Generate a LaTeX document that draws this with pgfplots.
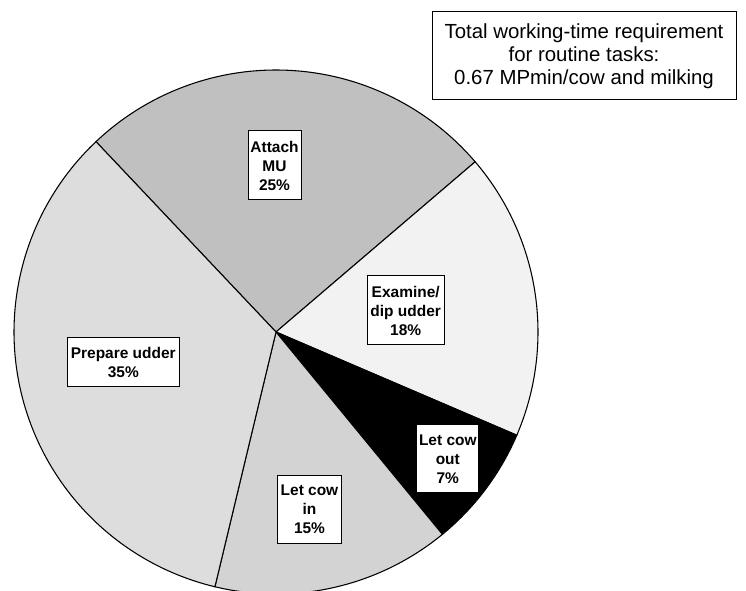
\documentclass[border=0pt]{standalone}
\usepackage{pgfplots}
\pgfplotsset{compat=1.18}
\usepackage{fontspec}
\setmainfont{Liberation Sans}
\definecolor{cAttach}{HTML}{C0C0C0}
\definecolor{cExam}{HTML}{F2F2F2}
\definecolor{cOut}{HTML}{000000}
\definecolor{cIn}{HTML}{D3D3D3}
\definecolor{cPrep}{HTML}{DDDDDD}
% slice shares in percent, clockwise from the start angle
\def\pAttach{25.8}
\def\pExam{17.7}
\def\pOut{7.6}
\def\pIn{14.7}
\def\pPrep{34.2}
\def\startang{133.4}
\begin{document}
\begin{tikzpicture}
\pgfmathsetmacro{\aA}{\startang}
\pgfmathsetmacro{\aB}{\aA-3.6*\pAttach}
\pgfmathsetmacro{\aC}{\aB-3.6*\pExam}
\pgfmathsetmacro{\aD}{\aC-3.6*\pOut}
\pgfmathsetmacro{\aE}{\aD-3.6*\pIn}
\pgfmathsetmacro{\aF}{\aE-3.6*\pPrep}
\begin{axis}[
  scale only axis,
  width=559.5pt, height=443.25pt,
  xmin=0, xmax=746, ymin=0, ymax=591,
  hide axis,
  clip=true,
]
\def\cx{276}\def\cy{259}\def\rr{262}
\addplot[fill=cAttach, draw=black, line width=0.8pt, domain=\aB:\aA, samples=90, variable=\t]
  ({\cx+\rr*cos(t)}, {\cy+\rr*sin(t)}) -- (axis cs:\cx,\cy) -- cycle;
\addplot[fill=cExam, draw=black, line width=0.8pt, domain=\aC:\aB, samples=70, variable=\t]
  ({\cx+\rr*cos(t)}, {\cy+\rr*sin(t)}) -- (axis cs:\cx,\cy) -- cycle;
\addplot[fill=cOut, draw=black, line width=0.8pt, domain=\aD:\aC, samples=40, variable=\t]
  ({\cx+\rr*cos(t)}, {\cy+\rr*sin(t)}) -- (axis cs:\cx,\cy) -- cycle;
\addplot[fill=cIn, draw=black, line width=0.8pt, domain=\aE:\aD, samples=60, variable=\t]
  ({\cx+\rr*cos(t)}, {\cy+\rr*sin(t)}) -- (axis cs:\cx,\cy) -- cycle;
\addplot[fill=cPrep, draw=black, line width=0.8pt, domain=\aF:\aE, samples=120, variable=\t]
  ({\cx+\rr*cos(t)}, {\cy+\rr*sin(t)}) -- (axis cs:\cx,\cy) -- cycle;

\tikzset{lab/.style={draw=black, fill=white, line width=0.75pt, align=center,
  font=\fontsize{11.6pt}{14.25pt}\selectfont\bfseries, inner sep=0pt}}
\node[lab, minimum width=39.75pt, minimum height=51.75pt] at (axis cs:274.5,425.5) {Attach\\MU\\25\%};
\node[lab, minimum width=57.75pt, minimum height=51.75pt] at (axis cs:405.7,280.5) {Examine/\\dip udder\\18\%};
\node[lab, minimum width=84pt, minimum height=36.75pt] at (axis cs:123.3,228.7) {Prepare udder\\35\%};
\node[lab, minimum width=46.5pt, minimum height=51pt] at (axis cs:447.8,132) {Let cow\\out\\7\%};
\node[lab, minimum width=48pt, minimum height=51pt] at (axis cs:309.5,81.5) {Let cow\\in\\15\%};

\node[draw=black, fill=white, line width=0.75pt, align=center, inner sep=0pt,
  minimum width=228pt, minimum height=66pt,
  font=\fontsize{15.3pt}{17.25pt}\selectfont] at (axis cs:584,535)
  {Total working-time requirement\\for routine tasks:\\0.67 MPmin/cow and milking};
\end{axis}
\pgfresetboundingbox
\useasboundingbox (current axis.south west) rectangle (current axis.north east);
\end{tikzpicture}
\end{document}
